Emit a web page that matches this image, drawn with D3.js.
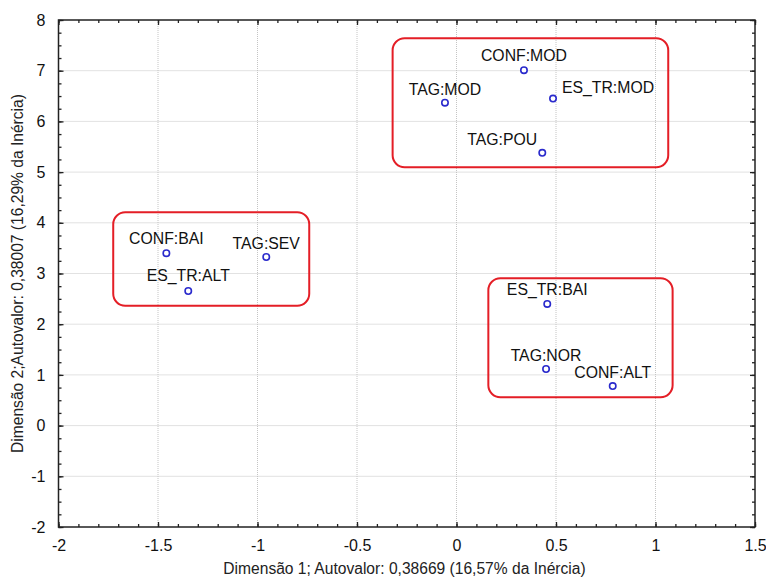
<!DOCTYPE html>
<html><head><meta charset="utf-8">
<script src="https://cdn.jsdelivr.net/npm/d3@7/dist/d3.min.js"></script>
<style>
html,body{margin:0;padding:0;background:#fff;}
text{font-family:"Liberation Sans",Arial,sans-serif;}
</style></head>
<body><svg id="chart" width="766" height="579"></svg>
<script>
// ---- data ----
const categories = ["CONF:MOD","TAG:MOD","ES_TR:MOD","TAG:POU","CONF:BAI","TAG:SEV","ES_TR:ALT","ES_TR:BAI","TAG:NOR","CONF:ALT"];
const dim1 = [0.339,-0.058,0.485,0.431,-1.458,-0.956,-1.348,0.456,0.450,0.785];
const dim2 = [7.01,6.37,6.45,5.38,3.40,3.325,2.655,2.40,1.116,0.78];
const xTicks = [-2,-1.5,-1,-0.5,0,0.5,1,1.5];
const yTicks = [-2,-1,0,1,2,3,4,5,6,7,8];
const xTickLabels = ["-2","-1.5","-1","-0.5","0","0.5","1","1.5"];
const yTickLabels = ["-2","-1","0","1","2","3","4","5","6","7","8"];
const xTitle = "Dimensão 1; Autovalor: 0,38669 (16,57% da Inércia)";
const yTitle = "Dimensão 2;Autovalor: 0,38007 (16,29% da Inércia)";
// groups (cluster boxes) in data units: [x0, x1, yTop, yBottom]
const groupX0 = [-0.321,-1.725,0.160];
const groupX1 = [1.064,-0.740,1.086];
const groupYTop = [7.64,4.207,2.905];
const groupYBottom = [5.095,2.365,0.558];

// ---- layout ----
const labelDx = [0,0,55,-40,0,0,0,0,0,0];
const labelDy = [-9,-8,-5.5,-8,-9.5,-8,-9.5,-9,-8.5,-8];
const L = 58.5, R = 755, T = 20, B = 527;
const svg = d3.select("#chart");
const x = d3.scaleLinear().domain([-2,1.5]).range([L,R]);
const y = d3.scaleLinear().domain([-2,8]).range([B,T]);

// grid
const g = svg.append("g");
g.selectAll(".gx").data(xTicks.slice(1,-1)).join("line")
 .attr("x1",d=>x(d)).attr("x2",d=>x(d)).attr("y1",T).attr("y2",B)
 .attr("stroke","#c4c4c4").attr("stroke-width",1).attr("stroke-dasharray","1,1");
g.selectAll(".gy").data(yTicks.slice(1,-1)).join("line")
 .attr("y1",d=>y(d)).attr("y2",d=>y(d)).attr("x1",L).attr("x2",R)
 .attr("stroke","#c4c4c4").attr("stroke-width",1).attr("stroke-dasharray","1,1");

// axes with inward ticks
const xMinor = d3.range(-2,1.5001,0.1).map(v=>+v.toFixed(2));
const yMinor = d3.range(-2,8.0001,0.25).map(v=>+v.toFixed(2));
function addAxis(axis, transform){
  const a = svg.append("g").attr("transform",transform).call(axis);
  a.select(".domain").remove();
  a.selectAll("line").attr("stroke","#222").attr("stroke-width",1.3);
  return a;
}
// minor ticks
addAxis(d3.axisBottom(x).tickValues(xMinor).tickSize(-3).tickFormat(""),`translate(0,${B})`);
addAxis(d3.axisTop(x).tickValues(xMinor).tickSize(-3).tickFormat(""),`translate(0,${T})`);
addAxis(d3.axisLeft(y).tickValues(yMinor).tickSize(-3).tickFormat(""),`translate(${L},0)`);
addAxis(d3.axisRight(y).tickValues(yMinor).tickSize(-3).tickFormat(""),`translate(${R},0)`);
// major ticks with labels
const ax = addAxis(d3.axisBottom(x).tickValues(xTicks).tickSize(-5).tickPadding(13).tickFormat((d,i)=>xTickLabels[i]),`translate(0,${B})`);
ax.selectAll("text").attr("font-size",16).attr("fill","#111");
const ay = addAxis(d3.axisLeft(y).tickValues(yTicks).tickSize(-5).tickPadding(13).tickFormat((d,i)=>yTickLabels[i]),`translate(${L},0)`);
ay.selectAll("text").attr("font-size",16).attr("fill","#111");
addAxis(d3.axisTop(x).tickValues(xTicks).tickSize(-5).tickFormat(""),`translate(0,${T})`);
addAxis(d3.axisRight(y).tickValues(yTicks).tickSize(-5).tickFormat(""),`translate(${R},0)`);

// frame
svg.append("rect").attr("x",L).attr("y",T).attr("width",R-L).attr("height",B-T)
 .attr("fill","none").attr("stroke","#222").attr("stroke-width",1.5);

// titles
svg.append("text").attr("x",404.5).attr("y",574).attr("text-anchor","middle")
 .attr("font-size",15.6).attr("fill","#222").text(xTitle);
svg.append("text").attr("transform",`translate(23,${(T+B)/2}) rotate(-90)`).attr("text-anchor","middle")
 .attr("font-size",15.6).attr("fill","#222").text(yTitle);

// group boxes
svg.selectAll(".box").data(groupX0).join("rect")
 .attr("x",(d,i)=>x(groupX0[i])).attr("y",(d,i)=>y(groupYTop[i]))
 .attr("width",(d,i)=>x(groupX1[i])-x(groupX0[i]))
 .attr("height",(d,i)=>y(groupYBottom[i])-y(groupYTop[i]))
 .attr("rx",12).attr("ry",12).attr("fill","none").attr("stroke","#e41e26").attr("stroke-width",2);

// points
svg.selectAll(".pt").data(categories).join("circle")
 .attr("cx",(d,i)=>x(dim1[i])).attr("cy",(d,i)=>y(dim2[i])).attr("r",3.2)
 .attr("fill","#fff").attr("stroke","#2a2acc").attr("stroke-width",1.6);
svg.selectAll(".lbl").data(categories).join("text")
 .attr("x",(d,i)=>x(dim1[i])+labelDx[i]).attr("y",(d,i)=>y(dim2[i])+labelDy[i])
 .attr("text-anchor","middle").attr("font-size",15.8).attr("fill","#111").text(d=>d);
</script></body></html>
